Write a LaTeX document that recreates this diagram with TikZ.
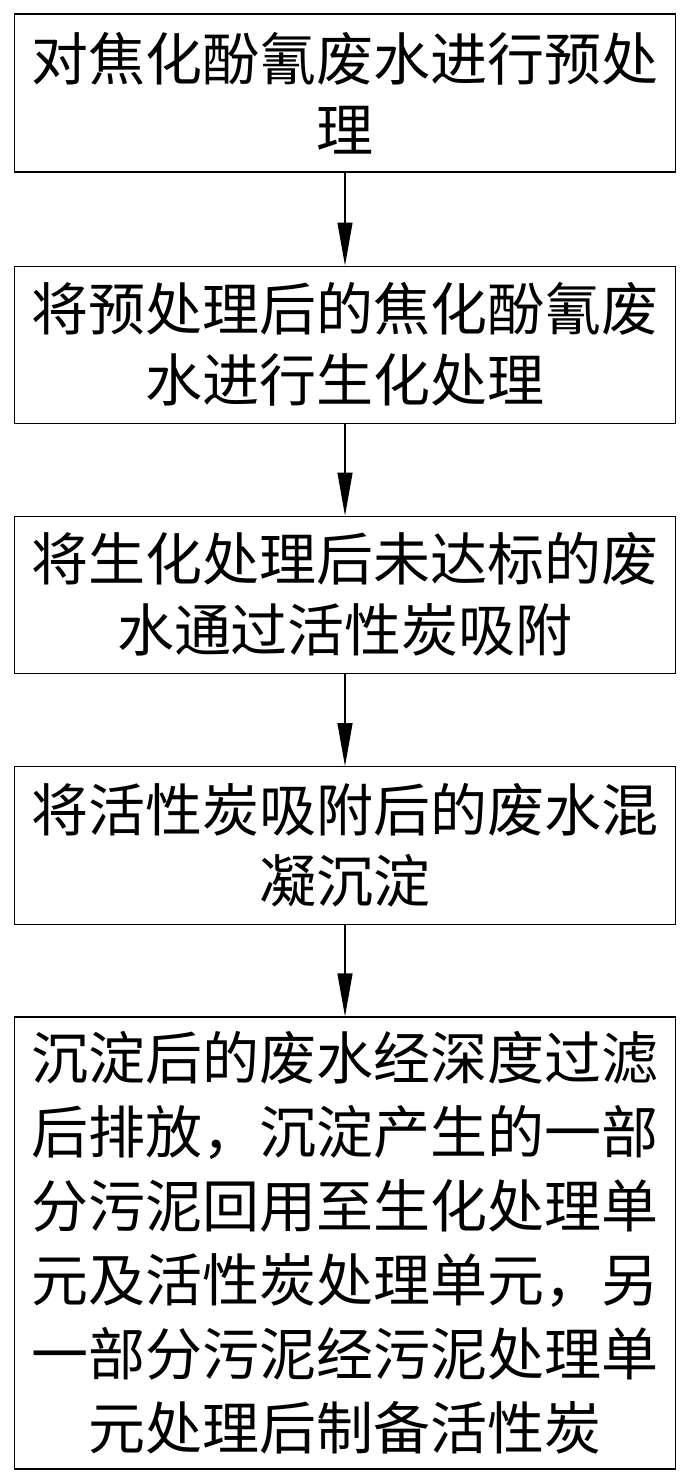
\documentclass[tikz,border=0pt]{standalone}
\usepackage{fontspec}
\newfontfamily\cjk{Noto Sans CJK SC}
\usetikzlibrary{arrows.meta}
\tikzset{
  stepbox/.style={draw=black, line width=1.2pt, minimum width=661pt, inner sep=0pt,
    align=center, text width=640pt, font=\cjk\fontsize{57pt}{71pt}\selectfont},
  flowarrow/.style={draw=black, line width=1.2pt, -{Triangle[length=43pt,width=15pt]}}
}
\begin{document}
\begin{tikzpicture}[x=1pt,y=1pt]
\useasboundingbox (0,0) rectangle (691,-1483);
\node[stepbox, minimum height=158pt] (b1) at (345,-93) {对焦化酚氰废水进行预处\\理};
\node[stepbox, minimum height=157pt] (b2) at (345,-344.6) {将预处理后的焦化酚氰废\\水进行生化处理};
\node[stepbox, minimum height=157pt] (b3) at (345,-594.7) {将生化处理后未达标的废\\水通过活性炭吸附};
\node[stepbox, minimum height=157.6pt] (b4) at (345,-845.5) {将活性炭吸附后的废水混\\凝沉淀};
\node[stepbox, minimum height=452pt, font=\cjk\fontsize{57pt}{74pt}\selectfont] (b5) at (345,-1243) {沉淀后的废水经深度过滤\\后排放，沉淀产生的一部\\分污泥回用至生化处理单\\元及活性炭处理单元，另\\一部分污泥经污泥处理单\\元处理后制备活性炭};
\draw[flowarrow] (b1.south) -- (b2.north);
\draw[flowarrow] (b2.south) -- (b3.north);
\draw[flowarrow] (b3.south) -- (b4.north);
\draw[flowarrow] (b4.south) -- (b5.north);
\end{tikzpicture}
\end{document}
